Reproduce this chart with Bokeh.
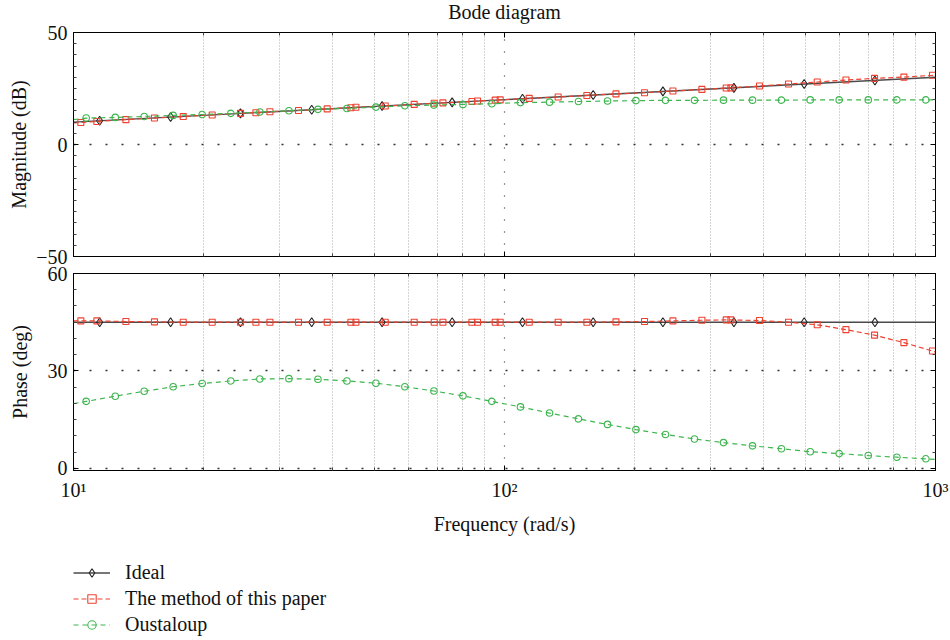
from bokeh.plotting import figure
from bokeh.models import Range1d, FixedTicker, LogAxis, LinearAxis, Legend, LegendItem
from bokeh.layouts import column
from bokeh.embed import file_html
from bokeh.resources import INLINE

# ---------------- data ----------------
# Ideal curve (straight line) and its marker samples
ideal_line_w = [10.0, 1000.0]
ideal_line_mag = [10.0, 30.0]
ideal_line_phase = [45.0, 45.0]
ideal_mark_w = [11.5, 16.8, 24.4, 35.7, 52.0, 75.6, 110.1, 160.6, 233.1, 340.6, 495.8, 723.5]
ideal_mark_mag = [10.6, 12.3, 13.9, 15.5, 17.2, 18.8, 20.4, 22.1, 23.7, 25.3, 27.0, 28.6]
ideal_mark_phase = [45.0, 45.0, 45.0, 45.0, 45.0, 45.0, 45.0, 45.0, 45.0, 45.0, 45.0, 45.0]

# The method of this paper (first and last entries are the curve ends, no marker)
method_w = [10.0, 10.40, 11.33, 13.23, 15.41, 17.97, 20.98, 24.41, 26.50, 28.56, 33.27,
            38.78, 44.02, 45.21, 52.88, 61.73, 68.69, 71.96, 84.03, 86.58, 95.15, 97.72,
            114.1, 133.2, 155.3, 181.4, 211.3, 245.9, 287.1, 326.9, 335.2, 390.5, 456.0,
            531.6, 619.7, 722.1, 844.7, 984.0, 1000.0]
method_mag = [9.6, 9.8, 10.3, 11.1, 11.8, 12.5, 13.2, 13.9, 14.2, 14.6, 15.2,
              15.9, 16.4, 16.6, 17.2, 17.9, 18.4, 18.6, 19.2, 19.4, 19.8, 19.9,
              20.6, 21.2, 21.9, 22.6, 23.1, 23.9, 24.6, 25.2, 25.3, 26.1, 27.0,
              27.9, 28.8, 29.5, 30.1, 30.9, 31.0]
method_phase = [45.4, 45.4, 45.4, 45.2, 45.1, 45.0, 45.0, 45.0, 45.0, 45.0, 45.0,
                45.0, 45.0, 45.0, 45.0, 45.0, 45.0, 45.0, 45.0, 45.0, 45.0, 45.0,
                45.0, 45.0, 45.0, 45.1, 45.2, 45.4, 45.6, 45.7, 45.7, 45.5, 45.0,
                44.2, 42.7, 41.0, 38.7, 36.1, 35.8]

# Oustaloup (first and last entries are the curve ends, no marker)
oust_w = [10.0, 10.70, 12.50, 14.59, 17.03, 19.89, 23.18, 27.07, 31.61, 36.91, 43.09,
          50.31, 58.74, 68.58, 80.08, 93.49, 108.9, 127.2, 148.5, 173.4, 201.8,
          236.4, 276.0, 322.2, 376.2, 439.2, 512.1, 597.9, 698.2, 813.7, 950.0, 1000.0]
oust_mag = [11.1, 11.8, 12.1, 12.5, 13.0, 13.4, 13.9, 14.5, 15.1, 15.7, 16.1,
            16.7, 17.3, 17.6, 17.9, 18.2, 18.7, 18.9, 19.2, 19.4, 19.6,
            19.7, 19.7, 19.8, 19.8, 19.8, 19.9, 19.9, 19.9, 19.9, 19.9, 19.9]
oust_phase = [19.9, 20.6, 22.2, 23.7, 25.1, 26.1, 26.9, 27.5, 27.6, 27.4, 26.9,
              26.2, 25.1, 23.8, 22.3, 20.6, 18.9, 17.0, 15.2, 13.5, 11.9,
              10.4, 9.0, 7.9, 6.9, 6.0, 5.1, 4.5, 3.9, 3.4, 2.9, 2.7]

series_labels = ["Ideal", "The method of this paper", "Oustaloup"]

x_major = [10, 100, 1000]
x_minor = [20, 30, 40, 50, 60, 70, 80, 90, 200, 300, 400, 500, 600, 700, 800, 900]
x_labels = {10: "10\u00b9", 100: "10\u00b2", 1000: "10\u00b3"}
mag_ticks = [-50, 0, 50]
mag_minor = [-45, -40, -35, -30, -25, -20, -15, -10, -5, 5, 10, 15, 20, 25, 30, 35, 40, 45]
mag_labels = {-50: "\u221250", 0: "0", 50: "50"}
phase_ticks = [0, 30, 60]
phase_minor = [5, 10, 15, 20, 25, 35, 40, 45, 50, 55]
phase_labels = {0: "0", 30: "30", 60: "60"}

# ---------------- style ----------------
FONT = "Liberation Serif"
FS = "20px"
RED = "#ee4130"
GREEN = "#3db54e"
IDEAL = "#4a4a4a"


def style_axis(ax, show_labels):
    ax.axis_line_color = "black"
    ax.axis_line_width = 1
    ax.major_tick_in = 5
    ax.major_tick_out = 0
    ax.minor_tick_in = 3
    ax.minor_tick_out = 0
    ax.major_tick_line_color = "black"
    ax.minor_tick_line_color = "#444444"
    ax.major_label_text_font = FONT
    ax.axis_label_text_font = FONT
    ax.axis_label_text_font_size = FS
    ax.axis_label_text_font_style = "normal"
    ax.axis_label_text_color = "#111111"
    ax.major_label_text_color = "#111111"
    if show_labels:
        ax.major_label_text_font_size = FS
    else:
        ax.major_label_text_font_size = "1px"
        ax.major_label_standoff = 0


def make_panel(height, yr, top, bottom, yticks, yminor, ylabels, ylabel, ystand, xlabels_on):
    p = figure(width=950, height=height, x_axis_type="log",
               x_range=Range1d(10, 1000), y_range=yr,
               output_backend="svg", toolbar_location=None,
               min_border_left=73, min_border_right=15,
               min_border_top=top, min_border_bottom=bottom)
    p.outline_line_color = "black"
    p.background_fill_color = "white"
    p.border_fill_alpha = 0
    xt = FixedTicker(ticks=x_major, minor_ticks=x_minor)
    yt = FixedTicker(ticks=yticks, minor_ticks=yminor)
    p.xaxis.ticker = xt
    p.yaxis.ticker = yt
    style_axis(p.xaxis[0], xlabels_on)
    style_axis(p.yaxis[0], True)
    if xlabels_on:
        p.xaxis.major_label_overrides = x_labels
        p.xaxis.axis_label = "Frequency (rad/s)"
        p.xaxis.major_label_standoff = 8
        p.xaxis.axis_label_standoff = 9
    else:
        p.xaxis.major_label_overrides = {t: "" for t in x_major}
    p.yaxis.major_label_overrides = ylabels
    p.yaxis.axis_label = ylabel
    p.yaxis.major_label_standoff = 6
    p.yaxis.axis_label_standoff = ystand

    top_ax = LogAxis(ticker=FixedTicker(ticks=x_major, minor_ticks=x_minor),
                     major_label_overrides={t: "" for t in x_major})
    style_axis(top_ax, False)
    p.add_layout(top_ax, "above")
    right_ax = LinearAxis(ticker=FixedTicker(ticks=yticks, minor_ticks=yminor),
                          major_label_overrides={t: "" for t in yticks})
    style_axis(right_ax, False)
    p.add_layout(right_ax, "right")

    p.xgrid.grid_line_color = "#333333"
    p.xgrid.grid_line_dash = "1 11"
    p.xgrid.grid_line_width = 1.2
    p.xgrid.minor_grid_line_color = "#a8a8a8"
    p.xgrid.minor_grid_line_dash = "1 2"
    p.ygrid.grid_line_color = "#333333"
    p.ygrid.grid_line_dash = "2 14"
    p.ygrid.grid_line_width = 1.4
    p.ygrid.minor_grid_line_color = None
    return p


def draw(p, ideal_y_line, ideal_y_mark, method_y, oust_y):
    r = {}
    r["l1"] = p.line(ideal_line_w, ideal_y_line, line_color=IDEAL, line_width=1.4)
    r["m1"] = p.scatter(ideal_mark_w, ideal_y_mark, marker="diamond", size=9, fill_color=None,
                        line_color="#222222", line_width=1.1)
    r["l2"] = p.line(method_w, method_y, line_color=RED, line_width=1.2, line_dash="5 3")
    r["m2"] = p.scatter(method_w[1:-1], method_y[1:-1], marker="square", size=6, fill_color=None,
                        line_color=RED, line_width=1.1)
    r["l3"] = p.line(oust_w, oust_y, line_color=GREEN, line_width=1.2, line_dash="5 4")
    r["m3"] = p.scatter(oust_w[1:-1], oust_y[1:-1], marker="circle", size=6.5, fill_color=None,
                        line_color=GREEN, line_width=1.1)
    return r


# magnitude panel: canvas starts 8 px above the page so the frame sits at 32..256;
# canvas reaches 275 so the -50 label is whole
p1 = make_panel(283, Range1d(-50, 50), 40, 19, mag_ticks, mag_minor, mag_labels,
                "Magnitude (dB)", 3, False)
p1.styles = {"margin-top": "-8px"}
p1.title.text = "Bode diagram"
p1.title.align = "center"
p1.title.vertical_align = "top"
p1.title.text_font = FONT
p1.title.text_font_size = FS
p1.title.text_font_style = "normal"
p1.title.text_color = "#111111"
p1.title.standoff = 16

# phase panel: pulled up 15 px (overlaps p1's transparent bottom border), frame 273..470
p2 = make_panel(280, Range1d(-0.7, 60), 13, 70, phase_ticks, phase_minor, phase_labels,
                "Phase (deg)", 14, True)
p2.styles = {"margin-top": "-15px"}

draw(p1, ideal_line_mag, ideal_mark_mag, method_mag, oust_mag)
draw(p2, ideal_line_phase, ideal_mark_phase, method_phase, oust_phase)

# ---------------- legend panel ----------------
# The same series are drawn here outside the visible y window, so only the legend shows.
p3 = figure(width=950, height=100, x_axis_type="log", x_range=Range1d(10, 1000),
            y_range=Range1d(1000, 2000), x_axis_location=None, y_axis_location=None,
            output_backend="svg", toolbar_location=None,
            min_border_left=73, min_border_top=21, min_border_right=0, min_border_bottom=0)
p3.outline_line_color = None
p3.grid.visible = False
p3.border_fill_alpha = 0
p3.background_fill_alpha = 0
r3 = draw(p3, ideal_line_mag, ideal_mark_mag, method_mag, oust_mag)

legend = Legend(items=[LegendItem(label=series_labels[0], renderers=[r3["l1"], r3["m1"]]),
                       LegendItem(label=series_labels[1], renderers=[r3["l2"], r3["m2"]]),
                       LegendItem(label=series_labels[2], renderers=[r3["l3"], r3["m3"]])],
                location="top_left", margin=0, padding=0, spacing=3,
                glyph_width=37, glyph_height=21, label_height=21, label_standoff=15,
                label_text_font=FONT, label_text_font_size=FS, label_text_color="#111111",
                border_line_color=None, background_fill_alpha=0)
p3.add_layout(legend)

layout = column(p1, p2, p3, spacing=0)
open("out.html", "w").write(file_html(layout, INLINE))
